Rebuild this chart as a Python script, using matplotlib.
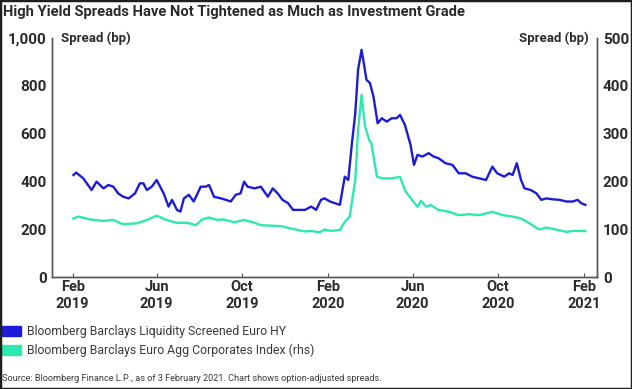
import pandas as pd
import matplotlib
matplotlib.use("Agg")
import matplotlib.pyplot as plt
from matplotlib.patches import Rectangle

# Bloomberg Barclays Liquidity Screened Euro HY (lhs, bp)
hy_dates = [
    "2019-02-02", "2019-02-06", "2019-02-16", "2019-02-28", "2019-03-07", "2019-03-17",
    "2019-03-24", "2019-03-31", "2019-04-07", "2019-04-14", "2019-04-22", "2019-05-01",
    "2019-05-08", "2019-05-13", "2019-05-18", "2019-05-25", "2019-06-01", "2019-06-11",
    "2019-06-18", "2019-06-23", "2019-06-30", "2019-07-05", "2019-07-10", "2019-07-17",
    "2019-07-24", "2019-08-03", "2019-08-10", "2019-08-15", "2019-08-22", "2019-09-01",
    "2019-09-08", "2019-09-15", "2019-09-22", "2019-09-29", "2019-10-04", "2019-10-09",
    "2019-10-19", "2019-10-28", "2019-11-07", "2019-11-14", "2019-11-21", "2019-11-28",
    "2019-12-06", "2019-12-13", "2019-12-20", "2019-12-30", "2020-01-08", "2020-01-15",
    "2020-01-22", "2020-01-27", "2020-02-04", "2020-02-11", "2020-02-18", "2020-02-25",
    "2020-03-01", "2020-03-06", "2020-03-11", "2020-03-15", "2020-03-20", "2020-03-24",
    "2020-03-27", "2020-04-01", "2020-04-06", "2020-04-09", "2020-04-12", "2020-04-18",
    "2020-04-25", "2020-05-02", "2020-05-09", "2020-05-14", "2020-05-21", "2020-05-29",
    "2020-06-03", "2020-06-08", "2020-06-15", "2020-06-24", "2020-07-01", "2020-07-08",
    "2020-07-18", "2020-07-28", "2020-08-06", "2020-08-16", "2020-08-25", "2020-09-04",
    "2020-09-14", "2020-09-23", "2020-09-30", "2020-10-10", "2020-10-17", "2020-10-22",
    "2020-10-28", "2020-11-03", "2020-11-08", "2020-11-17", "2020-11-25", "2020-12-02",
    "2020-12-09", "2020-12-19", "2020-12-28", "2021-01-07", "2021-01-16", "2021-01-23",
    "2021-01-28", "2021-02-03",
]
hy_values = [
    428, 438, 414, 365, 400, 372, 386, 379, 351, 337, 330, 351,
    393, 393, 365, 379, 407, 351, 296, 324, 282, 275, 330, 345,
    317, 379, 379, 386, 337, 330, 324, 317, 345, 351, 400, 379,
    372, 379, 337, 372, 351, 324, 310, 282, 282, 282, 296, 282,
    324, 330, 317, 310, 303, 421, 407, 554, 686, 868, 951, 881,
    826, 812, 756, 700, 644, 665, 651, 665, 665, 679, 637, 554,
    470, 512, 505, 519, 505, 498, 477, 470, 435, 435, 421, 414,
    407, 463, 435, 421, 435, 428, 477, 407, 372, 365, 351, 324,
    330, 326, 324, 317, 317, 324, 310, 303,
]

# Bloomberg Barclays Euro Agg Corporates Index (rhs, bp)
ig_dates = [
    "2019-02-02", "2019-02-09", "2019-02-26", "2019-03-17", "2019-03-31", "2019-04-14",
    "2019-05-04", "2019-05-18", "2019-06-01", "2019-06-15", "2019-06-30", "2019-07-15",
    "2019-07-27", "2019-08-05", "2019-08-15", "2019-08-27", "2019-09-05", "2019-09-20",
    "2019-10-04", "2019-10-19", "2019-10-28", "2019-11-12", "2019-11-26", "2019-12-10",
    "2019-12-30", "2020-01-08", "2020-01-20", "2020-01-27", "2020-02-06", "2020-02-18",
    "2020-02-25", "2020-03-03", "2020-03-11", "2020-03-15", "2020-03-20", "2020-03-25",
    "2020-03-31", "2020-04-03", "2020-04-11", "2020-04-20", "2020-05-02", "2020-05-14",
    "2020-05-21", "2020-05-31", "2020-06-08", "2020-06-13", "2020-06-20", "2020-06-27",
    "2020-07-08", "2020-07-23", "2020-08-06", "2020-08-21", "2020-09-04", "2020-09-23",
    "2020-10-08", "2020-10-22", "2020-11-03", "2020-11-15", "2020-11-29", "2020-12-09",
    "2020-12-23", "2021-01-07", "2021-01-16", "2021-02-03",
]
ig_values = [
    123, 127, 121, 118, 120, 111, 113, 120, 129, 120, 114, 114,
    109, 121, 125, 120, 121, 115, 120, 114, 109, 108, 107, 102,
    96, 97, 94, 100, 97, 99, 116, 127, 203, 308, 381, 315,
    287, 280, 210, 207, 207, 210, 182, 162, 148, 160, 148, 151,
    141, 137, 130, 132, 130, 137, 130, 127, 123, 113, 100, 104,
    100, 95, 97, 97,
]

tick_dates = ["2019-02-01", "2019-06-01", "2019-10-01", "2020-02-01",
              "2020-06-01", "2020-10-01", "2021-02-01"]
tick_labels = ["Feb\n2019", "Jun\n2019", "Oct\n2019", "Feb\n2020",
               "Jun\n2020", "Oct\n2020", "Feb\n2021"]

title = "High Yield Spreads Have Not Tightened as Much as Investment Grade"
legend_labels = ["Bloomberg Barclays Liquidity Screened Euro HY",
                 "Bloomberg Barclays Euro Agg Corporates Index (rhs)"]
source = "Source: Bloomberg Finance L.P., as of 3 February 2021. Chart shows option-adjusted spreads."

BLUE = "#1c1cd6"
GREEN = "#2de8b0"
INK = "#2b2b2b"

plt.rcParams["font.family"] = ["Roboto", "DejaVu Sans"]

fig = plt.figure(figsize=(6.32, 3.89), dpi=100)
ax = fig.add_axes([0.083, 0.287, 0.862, 0.615])
ax2 = ax.twinx()

ax.plot(pd.to_datetime(hy_dates), hy_values, color=BLUE, lw=1.7, zorder=3)
ax2.plot(pd.to_datetime(ig_dates), ig_values, color=GREEN, lw=1.7, zorder=2)

ax.set_ylim(0, 1000)
ax2.set_ylim(0, 500)
ax.set_xlim(pd.Timestamp("2019-01-03"), pd.Timestamp("2021-02-20"))
ax.set_yticks([0, 200, 400, 600, 800, 1000])
ax.set_yticklabels(["0", "200", "400", "600", "800", "1,000"])
ax2.set_yticks([0, 100, 200, 300, 400, 500])
ax.set_xticks(pd.to_datetime(tick_dates))
ax.set_xticklabels(tick_labels)

for a in (ax, ax2):
    a.spines["top"].set_visible(False)
    for s in ("left", "right", "bottom"):
        a.spines[s].set_color("#555555")
        a.spines[s].set_linewidth(1.0)
    a.tick_params(axis="y", length=0, labelsize=11, labelcolor=INK, pad=4)
    for lab in a.get_yticklabels():
        lab.set_fontweight("bold")
ax.tick_params(axis="x", direction="in", length=3, color="#555555",
               labelsize=10.5, labelcolor=INK, pad=2)
for lab in ax.get_xticklabels():
    lab.set_fontweight("bold")
    lab.set_linespacing(1.25)

ax.text(0.015, 1.0, "Spread (bp)", transform=ax.transAxes, ha="left", va="center",
        fontsize=9.5, fontweight="bold", color=INK)
ax.text(0.985, 1.0, "Spread (bp)", transform=ax.transAxes, ha="right", va="center",
        fontsize=9.5, fontweight="bold", color=INK)

fig.text(0.004, 0.97, title, ha="left", va="center", fontsize=10.6,
         fontweight="bold", color=INK)

# legend drawn as colored blocks with labels
for i, (lab, col) in enumerate(zip(legend_labels, [BLUE, GREEN])):
    y = 0.148 - i * 0.048
    fig.patches.append(Rectangle((0.003, y - 0.013), 0.031, 0.027,
                                 transform=fig.transFigure, color=col))
    fig.text(0.042, y, lab, ha="left", va="center", fontsize=8.8, color="#3a3a3a")

fig.text(0.003, 0.028, source, ha="left", va="center", fontsize=6.6, color="#3a3a3a")

fig.patches.append(Rectangle((0, 0), 1, 1, transform=fig.transFigure, fill=False,
                             edgecolor="#1e1e1e", lw=2.5))

fig.savefig("out.png", dpi=100)
